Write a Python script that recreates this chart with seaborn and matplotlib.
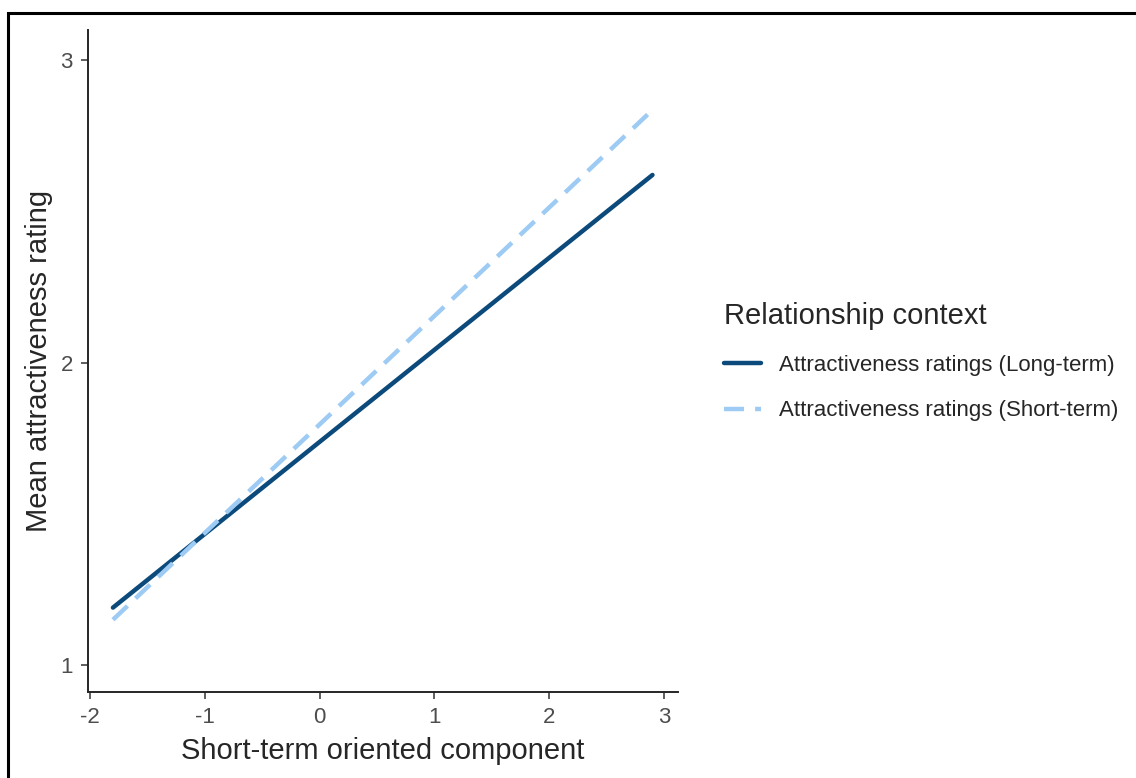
import pandas as pd
import seaborn as sns
import matplotlib.pyplot as plt
from matplotlib.patches import Rectangle

x_range = [-1.8, 2.9]
long_term = [1.19, 2.62]
short_term = [1.15, 2.835]
labels = ["Attractiveness ratings (Long-term)", "Attractiveness ratings (Short-term)"]
colors = ["#0B4A7B", "#9DCBF4"]

df = pd.DataFrame({
    "x": x_range * 2,
    "y": long_term + short_term,
    "context": [labels[0]] * 2 + [labels[1]] * 2,
})

sns.set_style("ticks")
plt.rcParams['font.family'] = ['Liberation Sans', 'DejaVu Sans']
plt.rcParams['axes.unicode_minus'] = False

fig = plt.figure(figsize=(11.36, 7.78), dpi=100)
ax = fig.add_axes([0.0775, 0.1105, 0.5193, 0.8509])

sns.lineplot(data=df, x="x", y="y", hue="context", style="context",
             palette=dict(zip(labels, colors)),
             dashes={labels[0]: "", labels[1]: (4.5, 2.5)},
             linewidth=3.2, ax=ax)

ax.set_xlim(-2.017, 3.122)
ax.set_ylim(0.911, 3.099)
ax.set_xticks([-2, -1, 0, 1, 2, 3])
ax.set_yticks([1, 2, 3])
ax.tick_params(labelsize=16, labelcolor="#4D4D4D", length=5, width=1.1,
               color="#333333", pad=6)
for s in ["left", "bottom"]:
    ax.spines[s].set_linewidth(1.4)
sns.despine(ax=ax)
ax.set_xlabel("Short-term oriented component", fontsize=21, labelpad=6)
ax.set_ylabel("Mean attractiveness rating", fontsize=21, labelpad=5)

handles, lbls = ax.get_legend_handles_labels()
leg = ax.legend(handles, lbls, title="Relationship context", loc="upper left",
                bbox_to_anchor=(0.6194, 0.638), bbox_transform=fig.transFigure,
                frameon=False, fontsize=16, title_fontsize=21,
                handlelength=1.7, handletextpad=0.8, labelspacing=1.12)
leg._legend_box.align = "left"

# outer frame of the original figure (cut at right and bottom)
fig.patches.append(Rectangle((8 / 1136, -0.1), 1.2, 1 - 13 / 778 + 0.1,
                             transform=fig.transFigure, fill=False,
                             edgecolor="black", linewidth=2.2))

plt.savefig("out.png", dpi=100)
